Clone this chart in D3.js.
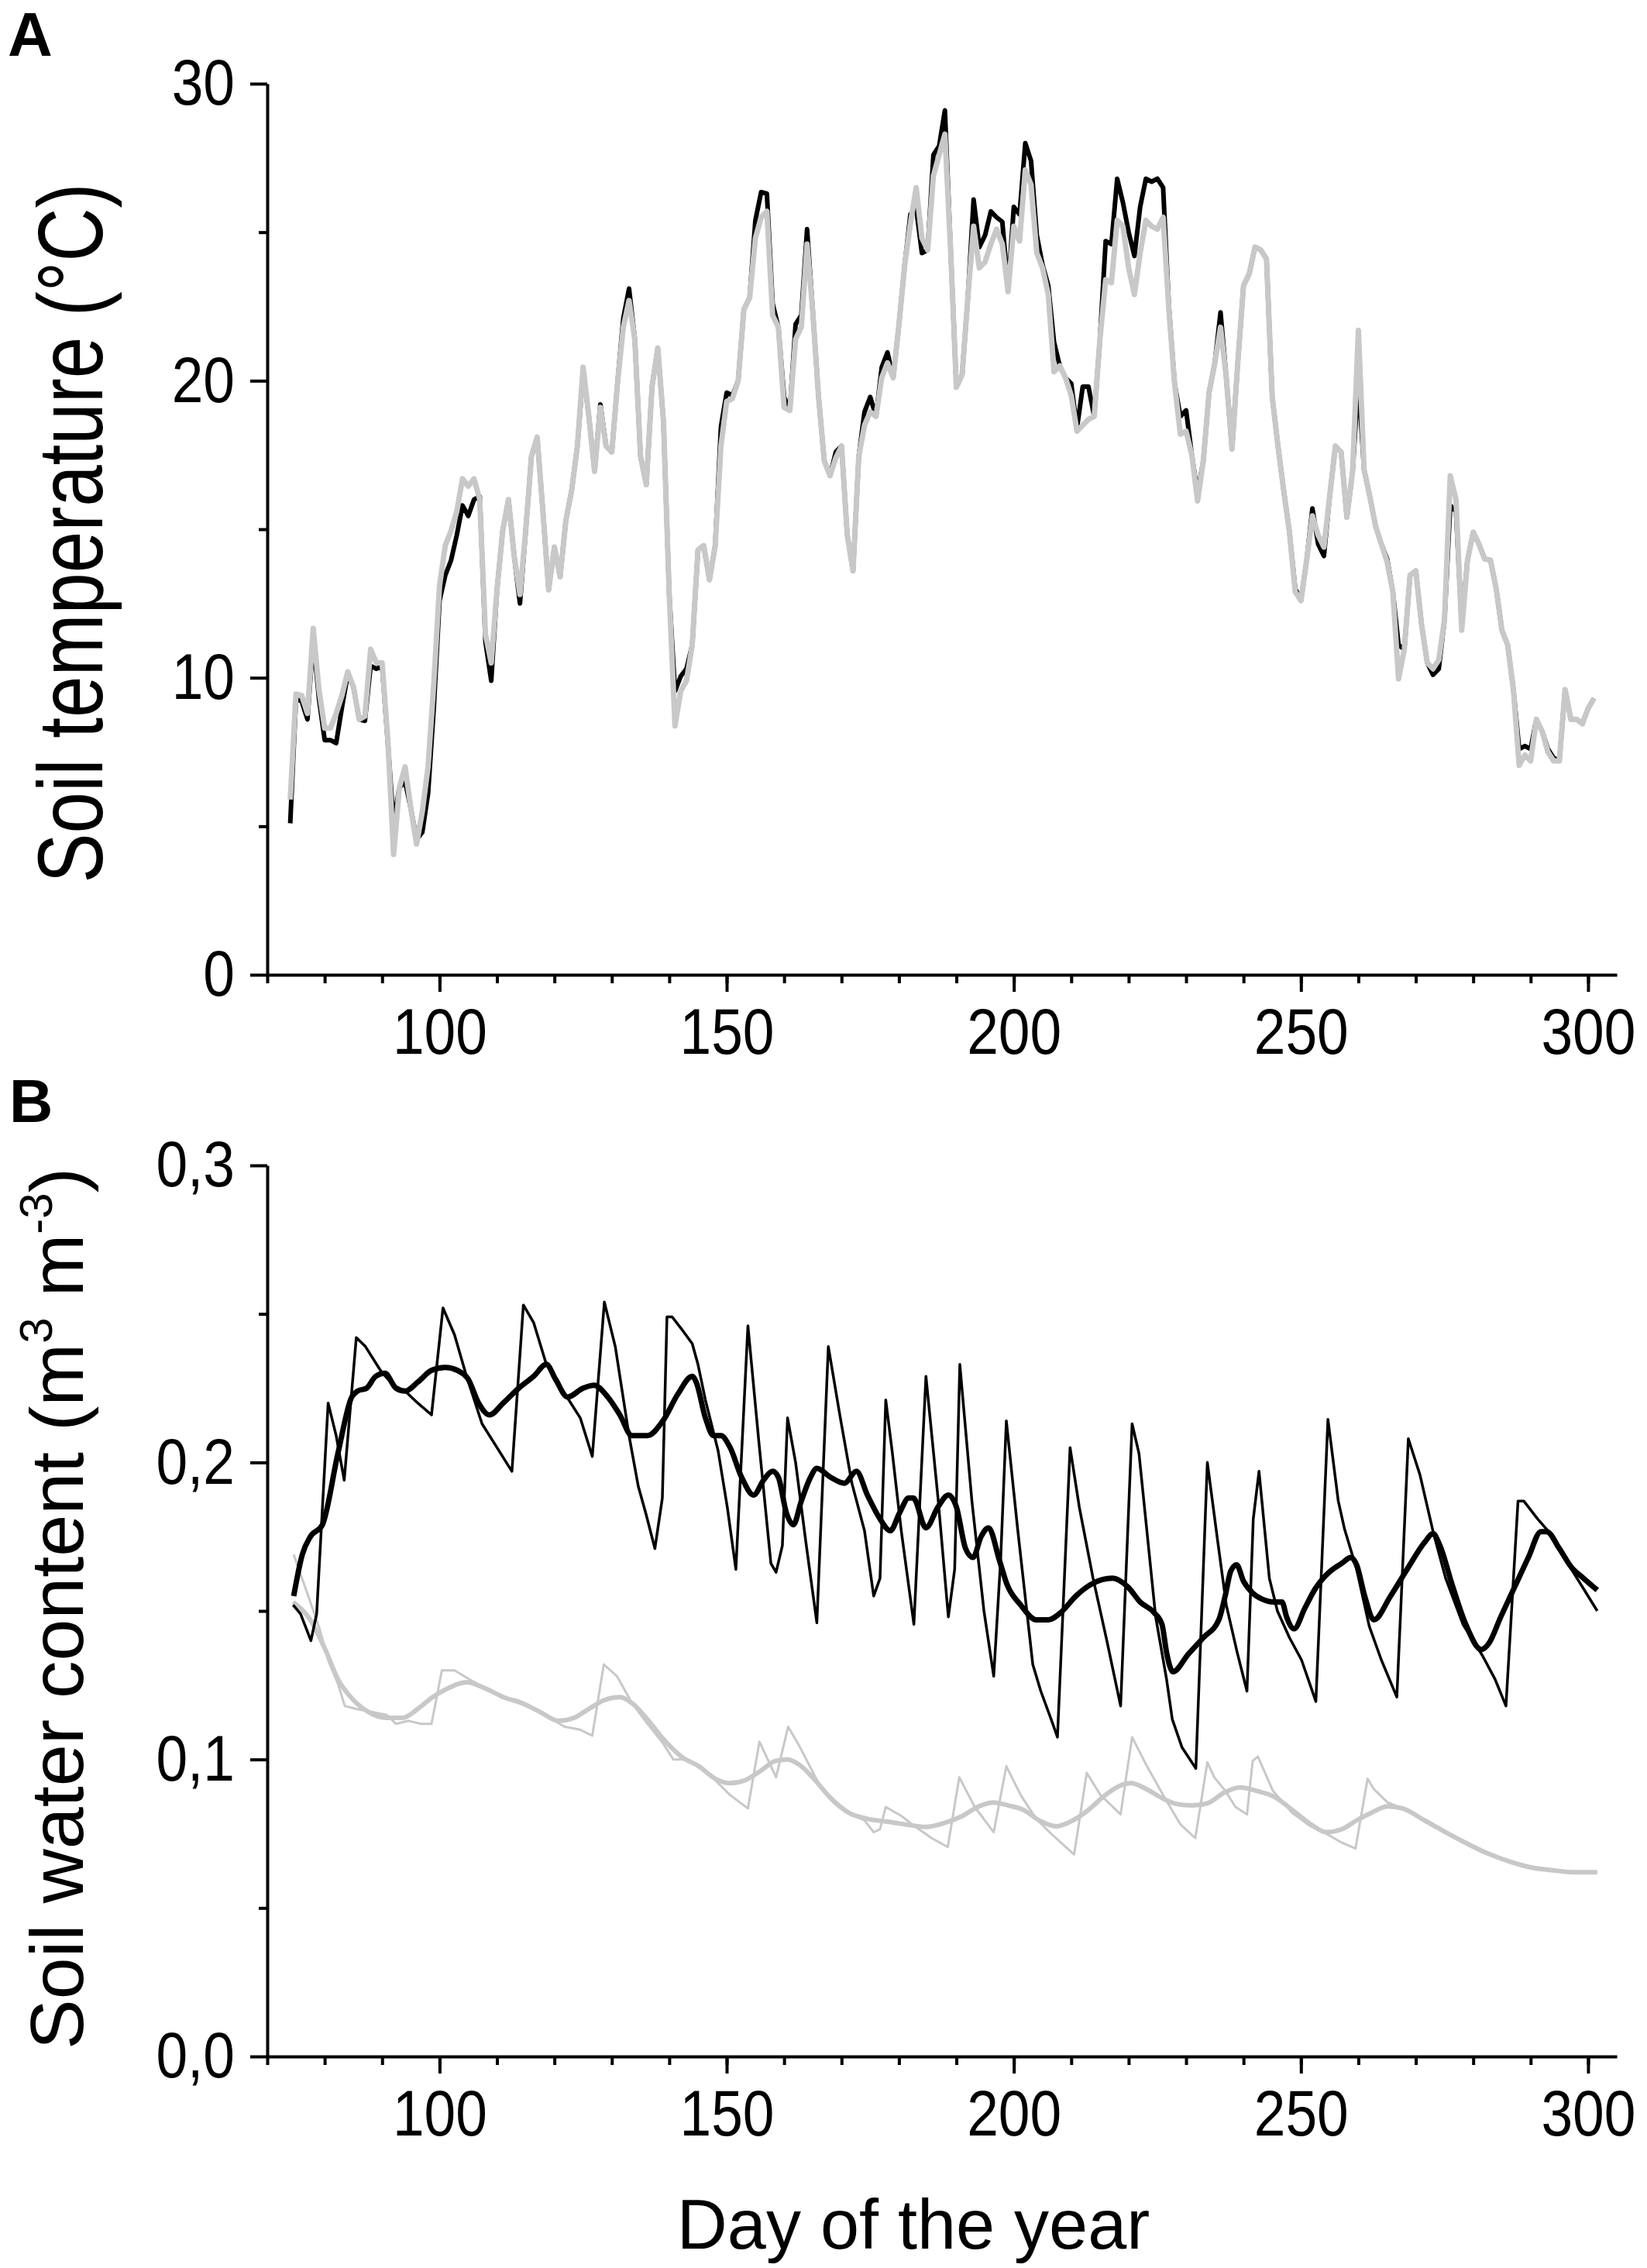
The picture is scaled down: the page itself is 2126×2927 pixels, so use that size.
<!DOCTYPE html>
<html>
<head>
<meta charset="utf-8">
<script src="https://cdn.jsdelivr.net/npm/d3@7"></script>
<style>
  html, body { margin: 0; padding: 0; background: #fff; }
  svg text { font-family: "Liberation Sans", Arial, sans-serif; fill: #000; }
</style>
</head>
<body>
<div id="chart"></div>
<script>
// ---- data ----
// panel A: daily soil temperature, day 74 .. 301
var tempDays = d3.range(74, 302);
var tempBlack = [
  5.1, 9.3, 9.2, 8.6, 11.3, 9.3, 7.9, 7.9, 7.8, 9.0,
  10.1, 9.7, 8.6, 8.55, 10.4, 10.3, 10.4, 7.8, 5.1, 6.3,
  6.5, 5.6, 4.55, 4.8, 6.1, 9.0, 12.6, 13.45, 13.95, 14.8,
  15.8, 15.45, 16.0, 16.1, 11.2, 9.9, 12.96, 14.95, 16.0, 14.1,
  12.5, 14.95, 17.45, 18.1, 15.6, 12.96, 14.4, 13.4, 15.3, 16.3,
  17.8, 20.3, 18.8, 16.95, 19.2, 17.8, 17.6, 19.95, 22.1, 23.1,
  21.4, 17.45, 16.5, 19.8, 21.1, 18.6, 12.8, 9.55, 10.05, 10.3,
  11.1, 14.3, 14.45, 13.3, 14.45, 18.45, 19.6, 19.5, 20.0, 22.4,
  22.8, 25.4, 26.35, 26.3, 22.6, 21.8, 19.45, 19.0, 21.9, 22.2,
  25.1, 22.3, 19.45, 17.3, 16.8, 17.6, 17.8, 14.8, 13.6, 17.45,
  18.95, 19.45, 18.8, 20.45, 20.95, 20.1, 21.9, 23.9, 25.6, 25.8,
  24.3, 24.4, 27.6, 27.9, 29.1, 24.4, 19.78, 20.2, 22.8, 26.1,
  24.5, 24.9, 25.7, 25.5, 25.35, 23.1, 25.85, 25.6, 28.0, 27.4,
  24.9, 23.9, 23.2, 21.3, 20.5, 20.1, 19.9, 18.4, 19.8, 19.8,
  18.8, 21.4, 24.7, 24.6, 26.8, 26.0, 25.0, 24.2, 25.85, 26.8,
  26.7, 26.8, 26.5, 22.5, 19.9, 18.8, 19.0, 17.5, 16.2, 17.3,
  19.6, 20.6, 22.3, 20.1, 17.7, 20.6, 23.2, 23.6, 24.5, 24.4,
  24.1, 19.45, 17.8, 16.3, 14.9, 13.0, 12.6, 13.96, 15.7, 14.5,
  14.1, 16.1, 17.8, 17.6, 15.4, 16.95, 20.0, 17.0, 16.1, 15.1,
  14.5, 14.0, 12.9, 11.1, 10.96, 13.45, 13.6, 11.8, 10.5, 10.1,
  10.3, 11.96, 15.8, 15.6, 11.8, 13.96, 14.9, 14.5, 14.0, 13.96,
  13.0, 11.6, 11.1, 9.6, 7.6, 7.7, 7.6, 8.6, 8.2, 7.6,
  7.3, 7.2, 9.6, 8.6, 8.6, 8.45, 8.96, 9.3
];
var tempGray = [
  5.9, 9.45, 9.4, 8.8, 11.66, 9.6, 8.3, 8.3, 8.8, 9.4,
  10.2, 9.7, 8.6, 8.7, 10.96, 10.5, 10.5, 7.9, 4.05, 6.3,
  7.0, 5.6, 4.4, 5.5, 7.0, 9.8, 13.1, 14.45, 14.95, 15.6,
  16.7, 16.45, 16.7, 16.0, 11.46, 10.5, 12.96, 14.95, 16.0, 14.1,
  12.8, 14.95, 17.45, 18.1, 15.6, 12.96, 14.4, 13.4, 15.3, 16.3,
  17.8, 20.45, 18.8, 16.95, 19.1, 17.8, 17.6, 19.95, 21.8, 22.7,
  21.4, 17.45, 16.5, 19.8, 21.1, 18.6, 12.8, 8.38, 9.55, 9.9,
  11.1, 14.3, 14.45, 13.3, 14.45, 17.8, 19.3, 19.4, 20.0, 22.4,
  22.8, 24.8, 25.5, 25.7, 22.2, 21.8, 19.1, 19.0, 21.4, 21.8,
  24.6, 22.3, 19.45, 17.3, 16.8, 17.4, 17.8, 14.8, 13.6, 17.45,
  18.5, 18.95, 18.8, 20.1, 20.6, 20.1, 21.9, 23.9, 25.3, 26.5,
  24.8, 24.4, 26.9, 27.6, 28.3, 24.4, 19.78, 20.2, 22.8, 25.2,
  23.8, 24.0, 24.6, 25.1, 24.6, 23.0, 25.2, 24.7, 27.1, 26.6,
  24.3, 23.8, 22.9, 20.3, 20.5, 20.1, 19.5, 18.3, 18.5, 18.7,
  18.8, 21.4, 23.4, 23.3, 25.4, 25.2, 23.8, 22.9, 24.3, 25.4,
  25.2, 25.1, 25.5, 22.4, 19.9, 18.2, 18.3, 17.5, 15.95, 17.3,
  19.6, 20.6, 21.8, 20.1, 17.7, 20.6, 23.2, 23.6, 24.5, 24.4,
  24.1, 19.45, 17.8, 16.3, 14.9, 12.9, 12.6, 13.96, 15.45, 14.8,
  14.4, 16.1, 17.8, 17.6, 15.4, 16.95, 21.7, 17.0, 16.1, 15.1,
  14.5, 13.9, 12.9, 9.96, 10.96, 13.45, 13.6, 11.8, 10.5, 10.3,
  10.6, 11.96, 16.8, 16.0, 11.6, 13.96, 14.9, 14.5, 14.0, 13.96,
  13.0, 11.6, 11.1, 9.6, 7.05, 7.4, 7.2, 8.6, 8.2, 7.5,
  7.2, 7.2, 9.6, 8.6, 8.6, 8.45, 8.96, 9.3
];

// panel B: soil water content, [day, value]
var swcBlackThin = [[74.5,.152],[75.8,.149],[77.6,.140],[78.6,.149],[80.6,.220],[82,.209],[83.4,.194],[85.5,.242],[87.1,.239],[89.7,.231],[91.9,.226],[94,.224],[96.2,.220],[98.6,.216],[100.6,.252],[102.6,.243],[104.7,.229],[107.4,.213],[110,.205],[112.6,.197],[114.6,.253],[116.4,.247],[118.6,.233],[121.2,.225],[124.5,.215],[126.6,.202],[128.7,.254],[130.6,.239],[133,.209],[134.6,.192],[135.9,.183],[137.5,.171],[138.8,.188],[139.6,.249],[140.5,.249],[142.1,.245],[144,.240],[145,.233],[146.3,.221],[148.5,.204],[150.1,.185],[151.6,.164],[153.7,.246],[155.6,.207],[157.7,.166],[158.6,.163],[159.7,.172],[160.6,.215],[162,.200],[163.8,.173],[165.7,.146],[167.7,.239],[169.7,.216],[171.8,.193],[174,.177],[175.6,.155],[176.7,.161],[177.7,.221],[178.8,.204],[180.4,.177],[182.6,.1455],[184.7,.229],[186.8,.188],[188.6,.148],[189.7,.164],[190.6,.233],[192.7,.187],[194.8,.150],[196.5,.128],[197.7,.167],[198.7,.214],[200.7,.177],[203.3,.132],[204.7,.123],[206.5,.1135],[207.6,.1075],[209.8,.205],[211.4,.185],[213.8,.161],[216.2,.140],[218.6,.118],[220.6,.213],[221.8,.203],[224.7,.148],[226.6,.127],[227.6,.1135],[229.3,.104],[231.7,.097],[233.7,.200],[235.4,.175],[237,.152],[238.9,.136],[240.6,.123],[241.7,.181],[242.7,.197],[244.5,.161],[245.9,.150],[248,.141],[250.1,.1335],[252.6,.1195],[254.7,.2145],[256.5,.187],[257.6,.1775],[259.7,.164],[261.9,.1448],[264,.1335],[266.7,.121],[268.7,.208],[270.7,.196],[273.1,.176],[275.2,.161],[278.2,.1455],[281.6,.135],[283.8,.127],[285.7,.118],[287.8,.187],[288.8,.187],[291.2,.181],[293.9,.175],[297.1,.164],[299.2,.1575],[301.6,.150]];
var swcBlackThick = [[74.6,.155],[76.1,.169],[77.5,.175],[79.6,.179],[82.3,.203],[84.7,.222],[85.7,.224],[87.3,.225],[88.9,.229],[90.5,.230],[92.4,.225],[94,.224],[96.2,.227],[98.6,.231],[101,.232],[103.1,.231],[105,.228],[106.8,.220],[108.7,.216],[111.1,.220],[113.8,.225],[116.4,.229],[118.6,.233],[120.2,.228],[122.3,.222],[125,.225],[126.9,.226],[129.3,.222],[131.4,.216],[133.5,.209],[136.2,.209],[138.9,.214],[141.5,.223],[144,.229],[144.7,.227],[146.3,.215],[147.7,.209],[149,.209],[150.6,.205],[152.6,.195],[154.7,.189],[156.4,.194],[158,.197],[159,.195],[160.4,.183],[161.6,.179],[163,.187],[164.6,.195],[165.7,.198],[168.1,.195],[170.5,.193],[172.6,.197],[174.5,.189],[176.7,.181],[178.5,.177],[180.1,.183],[181.7,.188],[182.5,.188],[184.7,.178],[186.8,.185],[188.6,.189],[190,.185],[191.6,.171],[192.9,.168],[194.3,.175],[195.6,.178],[197.5,.167],[198.8,.159],[201.2,.152],[203.9,.147],[206,.147],[208.2,.1495],[210.8,.155],[213.5,.159],[217.2,.161],[219.9,.158],[222,.153],[224.4,.1495],[225.8,.1455],[226.6,.136],[227.7,.1295],[230.4,.1355],[233,.141],[235.7,.147],[236.8,.155],[237.8,.1635],[238.8,.1655],[240,.160],[241.6,.156],[243.2,.154],[245.3,.153],[246.7,.153],[247.5,.148],[248.8,.144],[250.7,.151],[252.5,.1575],[254.9,.163],[257.1,.166],[258.7,.168],[259.7,.1655],[261.1,.155],[262.7,.147],[265.6,.155],[268.8,.165],[271.5,.173],[273,.176],[274.2,.172],[276.3,.159],[278.7,.1455],[281.4,.137],[282.7,.139],[284.8,.148],[287.2,.158],[289.6,.168],[291.8,.1767],[292.8,.1767],[295,.171],[297.1,.1647],[299.2,.161],[301.6,.157]];
var swcGrayThin = [[74.6,.169],[77.5,.153],[79.1,.144],[80.7,.133],[82.3,.1255],[83.5,.118],[85.5,.117],[88.1,.116],[90.8,.115],[92.4,.112],[94.6,.113],[96.7,.112],[98.6,.112],[100.4,.130],[102.6,.130],[105.2,.127],[107.9,.124],[111.1,.121],[113.8,.119],[116.4,.117],[119.1,.114],[121.8,.111],[124.5,.110],[126.6,.108],[128.6,.132],[130.9,.128],[133.5,.119],[136.2,.112],[138.9,.1055],[140.7,.100],[142.6,.100],[145.3,.098],[148,.093],[150.6,.088],[153.7,.0835],[155.7,.106],[158.6,.094],[160.7,.111],[162.8,.104],[166,.092],[168.6,.0855],[171.8,.0815],[174,.0795],[175.6,.0755],[176.7,.0765],[177.7,.084],[180.4,.081],[183.1,.077],[185.7,.0735],[188.5,.0705],[190.5,.094],[193.2,.084],[196.5,.0755],[198.7,.0977],[201.2,.088],[203.9,.080],[206.5,.075],[210.5,.068],[212.7,.0955],[215.1,.088],[218.6,.0815],[220.6,.1075],[223.1,.098],[226.3,.087],[229,.0782],[231.6,.0735],[233.7,.099],[234.9,.094],[236.8,.0895],[238.6,.084],[240.6,.0815],[241.6,.0995],[242.5,.101],[245.1,.0895],[248.5,.082],[251.7,.0775],[254.4,.075],[257.1,.072],[259.5,.070],[261.6,.0935],[262.7,.090],[265.1,.0855],[267.7,.0835],[271.5,.0795],[275.2,.0755],[279,.0716],[282.7,.0682],[286.4,.0656],[290.2,.0636],[293.9,.0627],[297.6,.062],[301.6,.062]];
var swcGrayThick = [[74.5,.153],[77.5,.147],[80.1,.137],[82.3,.127],[85,.120],[87.6,.116],[90.8,.114],[93.5,.114],[96.2,.117],[98.8,.121],[101.5,.124],[104.7,.126],[107.9,.124],[111.1,.121],[114.3,.119],[117.5,.116],[120.7,.113],[123.4,.114],[126,.117],[128.7,.120],[131.4,.121],[133.5,.119],[136.2,.1135],[138.9,.107],[142.1,.101],[145.3,.0975],[148,.0935],[150.6,.092],[153.2,.093],[155.8,.096],[158.5,.0995],[160.6,.100],[162.8,.098],[165.4,.093],[168.1,.087],[171.3,.082],[174.5,.080],[178.3,.079],[181.5,.078],[184.7,.0773],[187.9,.0786],[191.1,.081],[193.7,.084],[196.4,.0855],[199.1,.0845],[201.7,.083],[204.4,.0795],[207.4,.0775],[210.3,.0795],[213,.083],[215.6,.0875],[218.3,.091],[220.4,.092],[223.1,.090],[225.8,.087],[228.4,.085],[231.1,.0845],[233.8,.0853],[236.8,.089],[239.4,.0906],[242.1,.0895],[245.3,.0875],[248.5,.083],[251.7,.0782],[254.4,.0755],[257.1,.0765],[259.7,.0795],[262.4,.0822],[265.1,.0842],[267.7,.0835],[271.5,.0795],[275.2,.0755],[279,.0716],[282.7,.0682],[286.4,.0656],[290.2,.0636],[293.9,.0627],[297.6,.062],[301.6,.062]];

// ticks
var dayMajor = [100, 150, 200, 250, 300];
var dayMinor = d3.range(70, 301, 10);
var tempMajor = [0, 10, 20, 30];
var tempMinor = [5, 15, 25];
var swcMajor = [0, 0.1, 0.2, 0.3];
var swcMinor = [0.05, 0.15, 0.25];

// ---- layout ----
var width = 2126, height = 2927;
var grey = "#c8c8c8";
var narrow = 0.87;   // tick labels are a condensed face

var svg = d3.select("#chart").append("svg")
  .attr("width", width)
  .attr("height", height);

var x = d3.scaleLinear().domain([70, 305]).range([345, 2087]);
var yA = d3.scaleLinear().domain([0, 30]).range([1258, 108]);
var yB = d3.scaleLinear().domain([0, 0.3]).range([2654, 1504]);

var comma = d3.formatLocale({decimal: ",", thousands: ".", grouping: [3], currency: ["", ""]}).format(".1f");

function drawAxes(y, major, minor, fmt) {
  var xAxisY = y.range()[0];

  // minor ticks first, no labels
  svg.append("g")
    .attr("transform", "translate(0," + xAxisY + ")")
    .call(d3.axisBottom(x).tickValues(dayMinor).tickSize(11).tickFormat(""))
    .call(function(g) { g.select(".domain").remove(); });
  svg.append("g")
    .attr("transform", "translate(" + x.range()[0] + ",0)")
    .call(d3.axisLeft(y).tickValues(minor).tickSize(11).tickFormat(""))
    .call(function(g) { g.select(".domain").remove(); });

  var gx = svg.append("g")
    .attr("transform", "translate(0," + xAxisY + ")")
    .call(d3.axisBottom(x).tickValues(dayMajor).tickSize(22).tickPadding(20).tickSizeOuter(0));
  var gy = svg.append("g")
    .attr("transform", "translate(" + x.range()[0] + ",0)")
    .call(d3.axisLeft(y).tickValues(major).tickSize(22).tickPadding(20).tickSizeOuter(0).tickFormat(fmt));

  svg.selectAll(".tick line").attr("stroke", "#000").attr("stroke-width", 4);
  [gx, gy].forEach(function(g) {
    g.select(".domain").attr("stroke", "#000").attr("stroke-width", 4);
    g.selectAll("text").attr("font-size", 84).attr("font-family", null);
  });
  gx.selectAll("text").attr("transform", "scale(" + narrow + ",1)");
  gy.selectAll("text")
    .attr("x", -42 / narrow)
    .attr("transform", "scale(" + narrow + ",1)");
}

drawAxes(yA, tempMajor, tempMinor, d3.format("d"));
drawAxes(yB, swcMajor, swcMinor, comma);

// ---- panel A lines ----
var lineA = d3.line()
  .x(function(d) { return x(d[0]); })
  .y(function(d) { return yA(d[1]); });

var blackA = tempDays.map(function(d, i) { return [d, tempBlack[i]]; });
var grayA = tempDays.map(function(d, i) { return [d, tempGray[i]]; });

svg.append("path")
  .datum(blackA)
  .attr("fill", "none")
  .attr("stroke", "#000")
  .attr("stroke-width", 6)
  .attr("stroke-linejoin", "round")
  .attr("d", lineA);

svg.append("path")
  .datum(grayA)
  .attr("fill", "none")
  .attr("stroke", grey)
  .attr("stroke-width", 7)
  .attr("stroke-linejoin", "round")
  .attr("d", lineA);

// ---- panel B lines ----
var lineB = d3.line()
  .x(function(d) { return x(d[0]); })
  .y(function(d) { return yB(d[1]); });
var smoothB = d3.line()
  .curve(d3.curveMonotoneX)
  .x(function(d) { return x(d[0]); })
  .y(function(d) { return yB(d[1]); });

var seriesB = [
  {data: swcGrayThin, color: grey, w: 3, gen: lineB},
  {data: swcGrayThick, color: grey, w: 6, gen: smoothB},
  {data: swcBlackThin, color: "#000", w: 3.5, gen: lineB},
  {data: swcBlackThick, color: "#000", w: 7, gen: smoothB}
];

seriesB.forEach(function(s) {
  svg.append("path")
    .datum(s.data)
    .attr("fill", "none")
    .attr("stroke", s.color)
    .attr("stroke-width", s.w)
    .attr("stroke-linejoin", "round")
    .attr("d", s.gen);
});

// ---- titles ----
svg.append("text")
  .attr("x", 10).attr("y", 72)
  .attr("font-size", 80).attr("font-weight", "bold")
  .text("A");
svg.append("text")
  .attr("x", 12).attr("y", 1448)
  .attr("font-size", 78).attr("font-weight", "bold")
  .text("B");

svg.append("text")
  .attr("transform", "translate(132,688) rotate(-90)")
  .attr("text-anchor", "middle")
  .attr("font-size", 118)
  .attr("textLength", 903)
  .attr("lengthAdjust", "spacingAndGlyphs")
  .text("Soil temperature (°C)");

var tB = svg.append("text")
  .attr("transform", "translate(107,2076) rotate(-90)")
  .attr("text-anchor", "middle")
  .attr("font-size", 97);
tB.append("tspan").text("Soil water content (m");
tB.append("tspan").attr("font-size", 60).attr("dy", -40).text("3");
tB.append("tspan").attr("dy", 40).text(" m");
tB.append("tspan").attr("font-size", 60).attr("dy", -40).text("-3");
tB.append("tspan").attr("dy", 40).text(")");

svg.append("text")
  .attr("x", 1179).attr("y", 2902)
  .attr("text-anchor", "middle")
  .attr("font-size", 90)
  .text("Day of the year");
</script>
</body>
</html>
